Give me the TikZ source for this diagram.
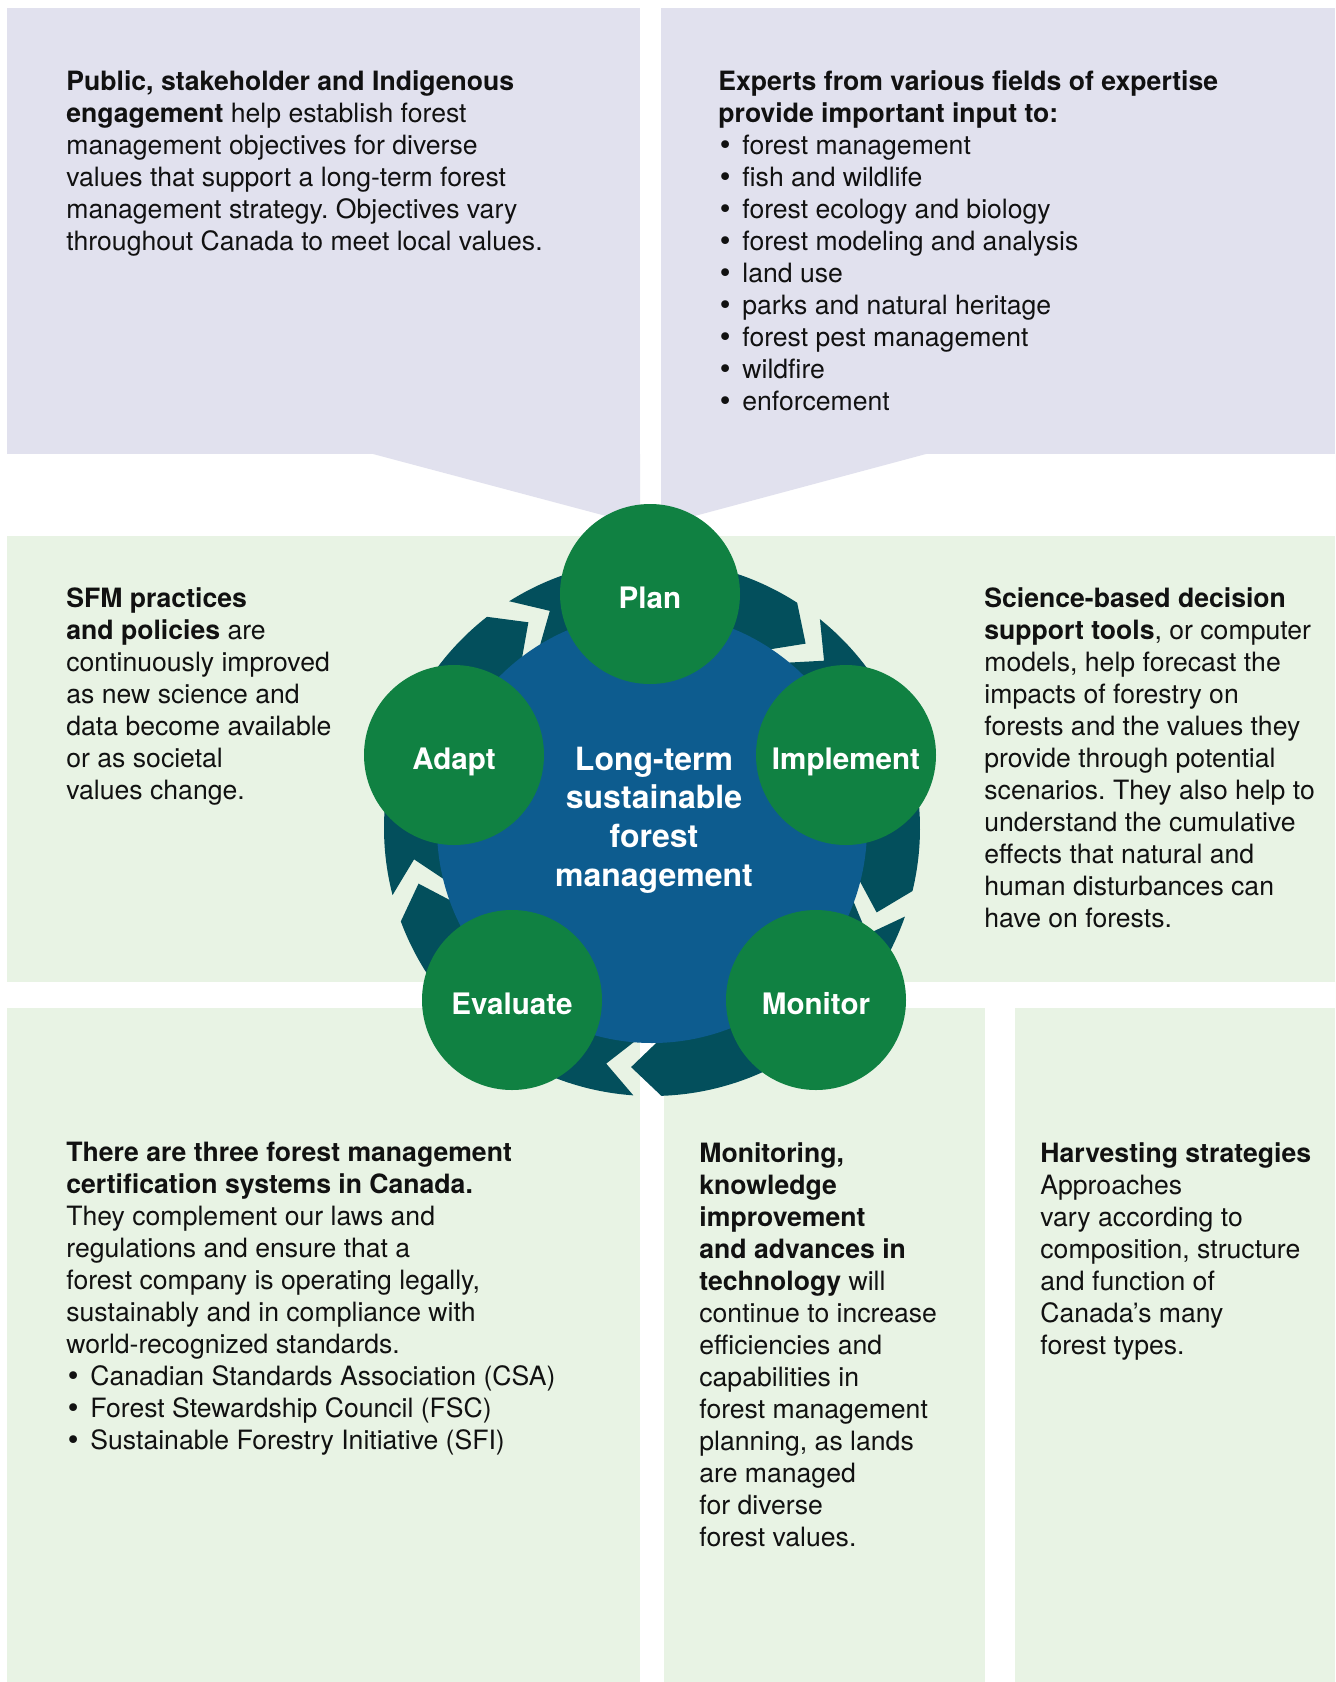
\documentclass[tikz,border=0pt]{standalone}
\usepackage{fontspec}
\setmainfont{TeX Gyre Heros}
\newfontfamily\bulletfont{DejaVu Sans}
\definecolor{panellilac}{RGB}{225,225,238}
\definecolor{panelgreen}{RGB}{232,243,228}
\definecolor{stagegreen}{RGB}{16,129,66}
\definecolor{hubblue}{RGB}{13,92,143}
\definecolor{ringteal}{RGB}{3,79,92}
\definecolor{inktext}{RGB}{17,17,17}
\def\ringarrow(#1:#2){\fill[ringteal] (#1:268) arc[start angle=#1, end angle=#2, radius=268] -- ({#2+7}:240) -- (#2:212) arc[start angle=#2, end angle=#1, radius=212] -- ({#1+7}:240) -- cycle;}
\def\pt{\makebox[12pt][l]{\hspace{-0.5pt}{\bulletfont •}}}

\begin{document}
\frenchspacing
\begin{tikzpicture}[x=0.5pt, y=-0.5pt,
	stage/.style={circle, fill=stagegreen, minimum size=90pt, inner sep=0pt, text=white, text height=14.7pt, text depth=0pt, font=\fontsize{14.8}{17}\selectfont\bfseries},
	blurb/.style={anchor=north west, align=left, inner sep=0pt, text=inktext, font=\fontsize{13.3}{16}\selectfont}]
			%%%%% START %%%%%
			
			\useasboundingbox (0, 0) rectangle (1335, 1682);
			\fill[white] (0, 0) rectangle (1335, 1682);
			
			% top panels with their pointers
			\fill[panellilac] (7, 8) rectangle (640, 454);
			\fill[panellilac] (373, 454) -- (640, 525) -- (640, 454) -- cycle;
			\fill[panellilac] (661, 8) rectangle (1335, 454);
			\fill[panellilac] (926, 454) -- (661, 525) -- (661, 454) -- cycle;
			
			% middle band and bottom panels
			\fill[panelgreen] (7, 536) rectangle (1335, 982);
			\fill[panelgreen] (7, 1008) rectangle (640, 1682);
			\fill[panelgreen] (664, 1008) rectangle (985, 1682);
			\fill[panelgreen] (1015, 1008) rectangle (1335, 1682);
			
			% cycle
			\begin{scope}[shift={(652, 828)}]
				\ringarrow(-122.2:-57.2)
				\ringarrow(-51.2:13.6)
				\ringarrow(19.3:88)
				\ringarrow(94:159.6)
				\ringarrow(165.5:232)
				\fill[hubblue] (0, 0) circle (215);
			\end{scope}
			
			\node[text=white, align=center, font=\fontsize{16}{19.3}\selectfont\bfseries] (hub) at (654, 820) {Long-term\\sustainable\\forest\\management};
			
			\node[stage] (plan) at (650, 594) {Plan};
			\node[stage] (implement) at (846, 755) {Implement};
			\node[stage] (monitor) at (816, 1000) {Monitor};
			\node[stage] (evaluate) at (512, 1000) {Evaluate};
			\node[stage] (adapt) at (454, 755) {Adapt};
			
			% texts
			\node[blurb] (engage) at (66, 70) {\textbf{Public, stakeholder and Indigenous}\\
				\textbf{engagement} help establish forest\\
				management objectives for diverse\\
				values that support a long-term forest\\
				management strategy. Objectives vary\\
				throughout Canada to meet local values.};
			
			\node[blurb] (experts) at (718, 70) {\textbf{Experts from various fields of expertise}\\
				\textbf{provide important input to:}\\
				\pt forest management\\
				\pt fish and wildlife\\
				\pt forest ecology and biology\\
				\pt forest modeling and analysis\\
				\pt land use\\
				\pt parks and natural heritage\\
				\pt forest pest management\\
				\pt wildfire\\
				\pt enforcement};
			
			\node[blurb] (adaptnote) at (66, 587) {\textbf{SFM practices}\\
				\textbf{and policies} are\\
				continuously improved\\
				as new science and\\
				data become available\\
				or as societal\\
				values change.};
			
			\node[blurb] (tools) at (984, 587) {\textbf{Science-based decision}\\
				\textbf{support tools}, or computer\\
				models, help forecast the\\
				impacts of forestry on\\
				forests and the values they\\
				provide through potential\\
				scenarios. They also help to\\
				understand the cumulative\\
				effects that natural and\\
				human disturbances can\\
				have on forests.};
			
			\node[blurb] (certify) at (66, 1142) {\textbf{There are three forest management}\\
				\textbf{certification systems in Canada.}\\
				They complement our laws and\\
				regulations and ensure that a\\
				forest company is operating legally,\\
				sustainably and in compliance with\\
				world-recognized standards.\\
				\pt Canadian Standards Association (CSA)\\
				\pt Forest Stewardship Council (FSC)\\
				\pt Sustainable Forestry Initiative (SFI)};
			
			\node[blurb] (monitoring) at (699, 1142) {\textbf{Monitoring,}\\
				\textbf{knowledge}\\
				\textbf{improvement}\\
				\textbf{and advances in}\\
				\textbf{technology} will\\
				continue to increase\\
				efficiencies and\\
				capabilities in\\
				forest management\\
				planning, as lands\\
				are managed\\
				for diverse\\
				forest values.};
			
			\node[blurb] (harvest) at (1040, 1142) {\textbf{Harvesting strategies}\\
				Approaches\\
				vary according to\\
				composition, structure\\
				and function of\\
				Canada’s many\\
				forest types.};
			
			%%%%% END %%%%%
\end{tikzpicture}
\end{document}
